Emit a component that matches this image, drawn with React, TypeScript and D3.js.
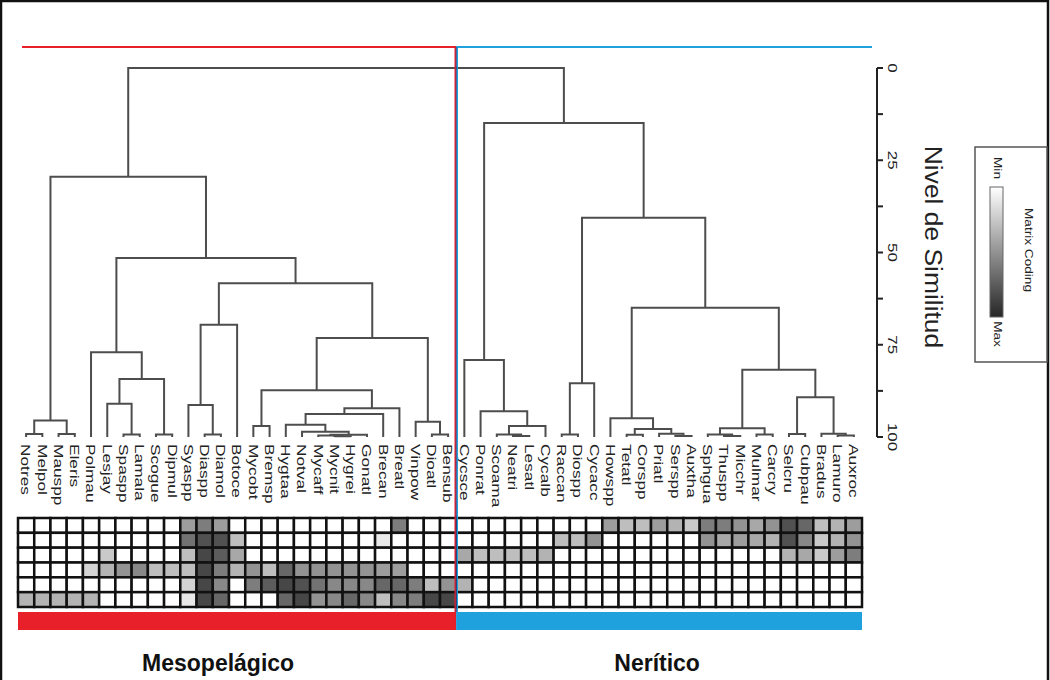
import React from "react";
import * as d3 from "d3";

// Species codes in dendrogram order (left: mesopelagic, right: neritic)
const leaves: string[] = [
  "Notres", "Melpol", "Mauspp", "Eleris", "Polmau", "Lesjay", "Spaspp", "Lamala",
  "Scogue", "Dipmul", "Syaspp", "Diaspp", "Diamol", "Botoce", "Mycobt", "Bremsp",
  "Hygtaa", "Notval", "Mycaff", "Mycnit", "Hygrei", "Gonatl", "Brecan", "Breatl",
  "Vinpow", "Dioatl", "Bensub",
  "Cycsce", "Ponrat", "Scoama", "Neatri", "Lesatl", "Cycalb", "Raccan", "Diospp",
  "Cycacc", "Howspp", "Tetatl", "Corspp", "Priatl", "Serspp", "Auxtha", "Sphgua",
  "Thuspp", "Micchr", "Mulmar", "Carcry", "Selcru", "Cubpau", "Bradus", "Lamuro",
  "Auxroc",
];

// Agglomeration steps: [child A, child B, similarity level].
// A string is a leaf; a number refers to an earlier row of this list.
const merges: [string | number, string | number, number][] = [
  ["Notres", "Melpol", 99.2], // 0
  ["Mauspp", "Eleris", 99.2], // 1
  [0, 1, 95.5], // 2
  ["Spaspp", "Lamala", 99.3], // 3
  ["Lesjay", 3, 91], // 4
  ["Scogue", "Dipmul", 99.3], // 5
  [4, 5, 84.3], // 6
  ["Polmau", 6, 77], // 7
  ["Diaspp", "Diamol", 99.3], // 8
  ["Syaspp", 8, 91.3], // 9
  [9, "Botoce", 69.6], // 10
  ["Mycobt", "Bremsp", 97], // 11
  ["Mycnit", "Hygrei", 99.8], // 12
  ["Mycaff", 12, 99.6], // 13
  [13, "Gonatl", 99.4], // 14
  ["Notval", 14, 98.6], // 15
  ["Hygtaa", 15, 96.7], // 16
  [16, "Brecan", 93.8], // 17
  [17, "Breatl", 92.2], // 18
  [11, 18, 87.3], // 19
  ["Dioatl", "Bensub", 99.3], // 20
  ["Vinpow", 20, 95.9], // 21
  [19, 21, 73.2], // 22
  [10, 22, 58.3], // 23
  [7, 23, 51.5], // 24
  [2, 24, 29.5], // 25
  ["Neatri", "Lesatl", 99.7], // 26
  ["Scoama", 26, 99.3], // 27
  [27, "Cycalb", 97], // 28
  ["Ponrat", 28, 93], // 29
  ["Cycsce", 29, 79.1], // 30
  ["Raccan", "Diospp", 99.3], // 31
  [31, "Cycacc", 85.4], // 32
  ["Tetatl", "Corspp", 99.4], // 33
  ["Serspp", "Auxtha", 99.7], // 34
  ["Priatl", 34, 99.1], // 35
  [33, 35, 97.8], // 36
  ["Howspp", 36, 94.9], // 37
  ["Thuspp", "Micchr", 99.7], // 38
  ["Sphgua", 38, 99.3], // 39
  ["Mulmar", "Carcry", 99.3], // 40
  [39, 40, 97.6], // 41
  ["Selcru", "Cubpau", 99.2], // 42
  ["Lamuro", "Auxroc", 99.6], // 43
  ["Bradus", 43, 99.1], // 44
  [42, 44, 89.2], // 45
  [41, 45, 81.8], // 46
  [37, 46, 65], // 47
  [32, 47, 40.6], // 48
  [30, 48, 14.9], // 49
  [25, 49, 0], // 50
];

// Matrix coding (0 = min, 1 = max), one row per variable, one value per species
const matrixRow1 = [0,0,0,0,0,0,0,0,0,0,.45,.6,.45,0,0,0,0,0,0,0,0,0,0,.6,0,0,0,0,0,0,0,0,0,0,0,0,.45,.3,.3,.45,.35,.25,.6,.6,.5,.4,.5,.8,.7,.3,.35,.45];
const matrixRow2 = [0,0,0,0,0,0,0,0,0,0,.65,.8,.8,.3,0,0,0,0,0,0,0,0,.1,0,0,0,0,0,0,0,0,0,0,.3,.3,.5,0,0,0,0,0,0,.5,.4,.45,.4,.35,.8,.55,.25,.35,.5];
const matrixRow3 = [0,0,0,0,0,.25,0,0,0,0,.3,.85,.75,.4,0,0,0,0,0,0,0,0,0,0,0,0,0,.4,.3,.3,.3,.3,.35,0,0,0,0,0,0,0,0,0,0,0,0,0,0,.35,.4,.25,.45,.6];
const matrixRow4 = [0,0,0,0,.2,.35,.5,.55,.3,.3,.3,.85,.6,.35,.5,.3,.7,.5,.5,.5,.5,.5,.45,.45,0,0,0,0,0,0,0,0,0,0,0,0,0,0,0,0,0,0,0,0,0,0,0,0,0,0,0,0];
const matrixRow5 = [0,0,0,0,0,0,0,0,0,0,.2,.85,.55,0,.6,.75,.85,.8,.65,.55,.55,.55,.7,.7,.6,.3,.5,.35,0,0,0,0,0,0,0,0,0,0,0,0,0,0,0,0,0,0,0,0,0,0,0,0];
const matrixRow6 = [.35,.35,.35,.35,.35,0,0,0,0,0,.1,.85,.7,0,0,0,.7,.85,.5,.55,.7,.55,.3,.55,.6,.85,.85,0,0,0,0,0,0,0,0,0,0,0,0,0,0,0,0,0,0,0,0,0,0,0,0,0];
const matrixRows = [matrixRow1, matrixRow2, matrixRow3, matrixRow4, matrixRow5, matrixRow6];

const groups = [
  { name: "Mesopelágico", from: "Notres", to: "Bensub" },
  { name: "Nerítico", from: "Cycsce", to: "Auxroc" },
];

const axisTicks = [0, 25, 50, 75, 100];
const minorTicks = [0, 12.5, 25, 37.5, 50, 62.5, 75, 87.5, 100];

const W = 1050;
const H = 680;
const left = 18;
const right = 862;
const font = "'Liberation Sans', Arial, sans-serif";
const groupColors = ["#e8202a", "#1ea1dc"];
const groupLabelDx = [-19, -2];

export default function App() {
  const x = d3.scaleBand<string>().domain(leaves).range([left, right]).padding(0);
  const bw = x.bandwidth();
  const cx = (name: string) => (x(name) as number) + bw / 2;
  const y = d3.scaleLinear().domain([0, 100]).range([68, 437]);

  const rowY = d3.scaleBand<number>().domain(d3.range(matrixRows.length)).range([518, 607]);
  const shade = d3.scaleLinear<string>().domain([0, 1]).range(["#ffffff", "#262626"]).interpolate(d3.interpolateRgb);

  // Resolve dendrogram geometry: each merge joins two children with a bracket
  const nodeX: number[] = [];
  const nodeH: number[] = [];
  const paths: string[] = [];
  const pos = (c: string | number): [number, number] =>
    typeof c === "string" ? [cx(c), 100] : [nodeX[c], nodeH[c]];
  merges.forEach(([a, b, h], i) => {
    const [xa, ha] = pos(a);
    const [xb, hb] = pos(b);
    nodeX[i] = (xa + xb) / 2;
    nodeH[i] = h;
    const p = d3.path();
    p.moveTo(xa, y(ha));
    p.lineTo(xa, y(h));
    p.lineTo(xb, y(h));
    p.lineTo(xb, y(hb));
    paths.push(p.toString());
  });

  const splitX = x("Cycsce") as number;
  const axisX = 877;

  return (
    <svg width={W} height={H} style={{ position: "absolute", left: 0, top: 0, background: "#fff" }} fontFamily={font}>
      <rect x={0} y={0} width={W} height={H} fill="#fff" />
      {/* frame */}
      <path d={`M1,${H} V1 H${W - 2} V${H}`} fill="none" stroke="#111" strokeWidth={2.5} />

      {/* group lines across the top */}
      <line x1={22} x2={splitX} y1={47} y2={47} stroke={groupColors[0]} strokeWidth={2} />
      <line x1={splitX} x2={872} y1={47} y2={47} stroke={groupColors[1]} strokeWidth={2} />

      {/* dendrogram */}
      <g fill="none" stroke="#4d4d4d" strokeWidth={2}>
        {paths.map((d, i) => (
          <path key={i} d={d} />
        ))}
      </g>

      {/* leaf labels */}
      <g fontSize={13} fill="#222">
        {leaves.map((n) => (
          <text key={n} transform={`translate(${cx(n)},444) rotate(90) scale(1.33,1)`} dominantBaseline="central">
            {n}
          </text>
        ))}
      </g>

      {/* matrix */}
      <g>
        {matrixRows.map((row, r) =>
          row.map((v, c) => (
            <rect
              key={`${r}-${c}`}
              x={x(leaves[c]) as number}
              y={rowY(r) as number}
              width={bw}
              height={rowY.bandwidth()}
              fill={shade(v)}
              stroke="#111"
              strokeWidth={2.5}
            />
          ))
        )}
      </g>

      {/* group bars and names */}
      {groups.map((g, i) => {
        const x0 = x(g.from) as number;
        const x1 = (x(g.to) as number) + bw;
        return (
          <g key={g.name}>
            <rect x={x0} y={612} width={x1 - x0} height={18} fill={groupColors[i]} />
            <text x={(x0 + x1) / 2 + groupLabelDx[i]} y={671} textAnchor="middle" fontWeight="bold" fontSize={23} fill="#111">
              {g.name}
            </text>
          </g>
        );
      })}

      {/* separator */}
      <line x1={splitX - 1} x2={splitX - 1} y1={47} y2={630} stroke={groupColors[0]} strokeWidth={1.5} />
      <line x1={splitX + 1} x2={splitX + 1} y1={47} y2={630} stroke={groupColors[1]} strokeWidth={1.5} />
      <line x1={splitX} x2={splitX} y1={47} y2={612} stroke="#3a3a7a" strokeWidth={1} />

      {/* similarity axis */}
      <g stroke="#222" strokeWidth={2}>
        <line x1={axisX} x2={axisX} y1={y(0)} y2={y(100)} />
        {minorTicks.map((t) => (
          <line key={t} x1={axisX} x2={axisX + 6} y1={y(t)} y2={y(t)} />
        ))}
      </g>
      <g fontSize={13} fill="#222">
        {axisTicks.map((t) => (
          <text key={t} transform={`translate(${axisX + 16},${y(t)}) rotate(90) scale(1.3,1)`} textAnchor="middle" dominantBaseline="central">
            {t}
          </text>
        ))}
      </g>
      <text transform={`translate(934,247) rotate(90) scale(1.1,1)`} textAnchor="middle" dominantBaseline="central" fontSize={24} fill="#222">
        Nivel de Similitud
      </text>

      {/* matrix coding legend */}
      <defs>
        <linearGradient id="mc" x1="0" y1="0" x2="0" y2="1">
          <stop offset="0" stopColor={shade(0)} />
          <stop offset="1" stopColor={shade(1)} />
        </linearGradient>
      </defs>
      <rect x={975} y={147} width={72} height={215} fill="#fff" stroke="#555" strokeWidth={1.5} />
      <rect x={990} y={187} width={13} height={130} fill="url(#mc)" stroke="#666" strokeWidth={1} />
      <g fontSize={10.5} fill="#222">
        <text transform="translate(997,168) rotate(90) scale(1.3,1)" textAnchor="middle" dominantBaseline="central">Min</text>
        <text transform="translate(997,334) rotate(90) scale(1.3,1)" textAnchor="middle" dominantBaseline="central">Max</text>
        <text transform="translate(1028,250) rotate(90) scale(1.3,1)" textAnchor="middle" dominantBaseline="central">Matrix Coding</text>
      </g>
    </svg>
  );
}
